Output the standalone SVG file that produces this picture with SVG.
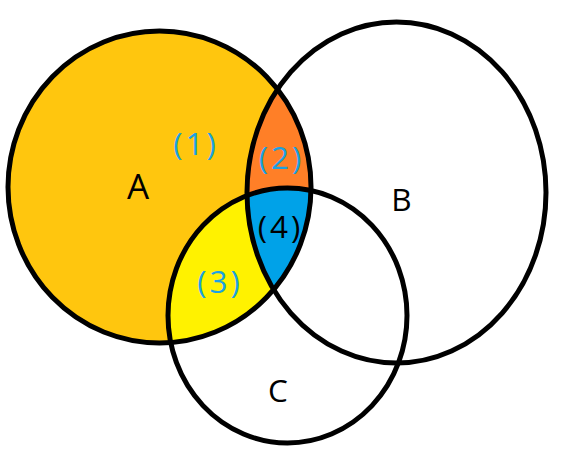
<svg xmlns="http://www.w3.org/2000/svg" width="570" height="464" viewBox="0 0 570 464">
<style>
.ring{fill:none;stroke:#000;stroke-width:5}
.lbl{font-family:"Open Sans","Noto Sans","DejaVu Sans",sans-serif;font-size:31.5px;text-anchor:middle}
.num{fill:#1BA1E2;letter-spacing:3px}
.blk{fill:#000}
</style>
<defs>
<ellipse id="eA" cx="159.5" cy="187" rx="151.5" ry="156"/>
<ellipse id="eB" cx="396.5" cy="192.5" rx="149.5" ry="170.5"/>
<ellipse id="eC" cx="287.5" cy="315.5" rx="119.5" ry="127.5"/>
<clipPath id="cA"><use href="#eA"/></clipPath>
<clipPath id="cB"><use href="#eB"/></clipPath>
<clipPath id="cC"><use href="#eC"/></clipPath>
</defs>
<rect width="570" height="464" fill="#fff"/>
<g id="fills">
<use href="#eA" fill="#FFC60E"/>
<g clip-path="url(#cA)">
<use href="#eB" fill="#FF7F27"/>
<use href="#eC" fill="#FFF200"/>
<g clip-path="url(#cB)"><use href="#eC" fill="#00A2E8"/></g>
</g>
</g>
<g id="circleA"><use href="#eA" class="ring"/><text class="lbl blk" x="138" y="199" style="font-size:35px">A</text></g>
<g id="circleB"><use href="#eB" class="ring"/><text class="lbl blk" x="401.5" y="211">B</text></g>
<g id="circleC"><use href="#eC" class="ring"/><text class="lbl blk" x="278" y="402">C</text></g>
<g id="region1"><text class="lbl num" x="196" y="155">(1)</text></g>
<g id="region2"><text class="lbl num" x="281.5" y="169">(2)</text></g>
<g id="region3"><text class="lbl num" x="220" y="293">(3)</text></g>
<g id="region4"><text class="lbl blk" x="280.5" y="238" style="letter-spacing:3px">(4)</text></g>
</svg>
